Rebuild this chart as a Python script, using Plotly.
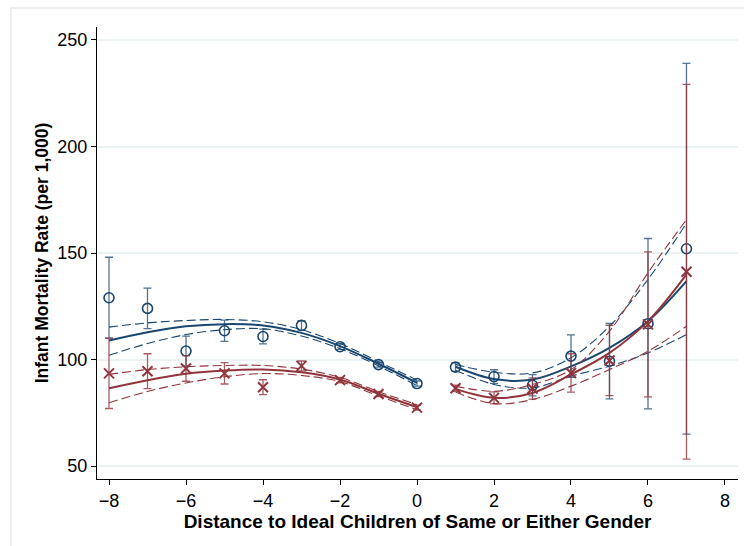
import plotly.graph_objects as go

# ---------------- data ----------------
x_left = [-8, -7, -6, -5, -4, -3, -2, -1, 0]
x_right = [1, 2, 3, 4, 5, 6, 7]

# Group 1 (blue circles): means and CI half-widths
blue_left = [129.0, 124.0, 104.0, 113.5, 110.8, 116.0, 106.0, 97.6, 88.7]
blue_left_err = [19.0, 9.5, 7.0, 5.0, 3.5, 2.2, 1.4, 1.2, 1.2]
blue_right = [96.4, 92.0, 87.9, 101.6, 99.2, 116.8, 152.0]
blue_right_err = [2.0, 3.2, 5.0, 10.0, 17.7, 40.0, 87.0]

# Group 2 (red crosses): means and CI half-widths
red_left = [93.5, 94.5, 95.8, 93.5, 87.0, 97.0, 90.3, 83.8, 77.4]
red_left_err = [16.5, 8.2, 6.0, 5.0, 3.5, 2.3, 1.3, 1.2, 1.2]
red_right = [86.5, 82.0, 86.4, 93.7, 99.5, 116.5, 141.2]
red_right_err = [1.5, 2.8, 5.0, 9.0, 16.5, 34.0, 88.0]

# Fitted curves and their confidence bands (read at integer x)
blue_fit_left = [108.9, 112.8, 115.6, 116.6, 116.0, 112.5, 106.3, 98.0, 89.0]
blue_fit_left_hi = [115.2, 117.2, 118.3, 118.8, 117.7, 114.0, 107.5, 99.0, 90.3]
blue_fit_left_lo = [102.0, 107.5, 111.7, 114.0, 114.4, 111.0, 105.1, 97.0, 87.7]
blue_fit_right = [96.6, 90.8, 90.6, 96.8, 105.5, 118.0, 136.8]
blue_fit_right_hi = [97.7, 94.0, 93.7, 100.8, 115.6, 137.6, 164.0]
blue_fit_right_lo = [95.0, 88.3, 86.7, 92.2, 96.9, 103.1, 111.7]

red_fit_left = [86.5, 90.3, 93.3, 94.8, 95.3, 94.0, 90.6, 83.9, 77.6]
red_fit_left_hi = [93.0, 95.3, 96.6, 97.2, 97.2, 95.5, 91.6, 84.9, 78.8]
red_fit_left_lo = [79.7, 85.0, 89.0, 91.9, 93.4, 92.5, 89.6, 82.9, 76.4]
red_fit_right = [86.2, 82.0, 84.3, 93.0, 103.1, 118.0, 140.0]
red_fit_right_hi = [87.5, 85.1, 88.3, 95.3, 113.3, 140.7, 165.7]
red_fit_right_lo = [84.7, 79.3, 81.2, 87.5, 95.3, 103.9, 115.6]

x_ticks = [-8, -6, -4, -2, 0, 2, 4, 6, 8]
y_ticks = [50, 100, 150, 200, 250]

x_title = "Distance to Ideal Children of Same or Either Gender"
y_title = "Infant Mortality Rate (per 1,000)"

# ---------------- styling ----------------
BLUE = "#1a476f"
RED = "#90353b"
BLUE_EB = "rgba(26,71,111,0.75)"
RED_EB = "rgba(144,53,59,0.8)"
GRID = "#eaf2f3"
FONT = "Liberation Sans, Arial, Helvetica, sans-serif"

fig = go.Figure()


def add_fit(xs, mid, hi, lo, color):
    for ys in (hi, lo):
        fig.add_trace(go.Scatter(
            x=xs, y=ys, mode="lines",
            line=dict(color=color, width=1.1, dash="9px,4px", shape="spline", smoothing=1.0),
            hoverinfo="skip", showlegend=False))
    fig.add_trace(go.Scatter(
        x=xs, y=mid, mode="lines",
        line=dict(color=color, width=2, shape="spline", smoothing=1.0),
        showlegend=False))


add_fit(x_left, blue_fit_left, blue_fit_left_hi, blue_fit_left_lo, BLUE)
add_fit(x_right, blue_fit_right, blue_fit_right_hi, blue_fit_right_lo, BLUE)
add_fit(x_left, red_fit_left, red_fit_left_hi, red_fit_left_lo, RED)
add_fit(x_right, red_fit_right, red_fit_right_hi, red_fit_right_lo, RED)

fig.add_trace(go.Scatter(
    x=x_left + x_right, y=blue_left + blue_right, mode="markers",
    marker=dict(symbol="circle-open", size=10, color=BLUE, line=dict(width=1.6, color=BLUE)),
    error_y=dict(type="data", array=blue_left_err + blue_right_err, visible=True,
                 color=BLUE_EB, thickness=1.3, width=4),
    showlegend=False))

fig.add_trace(go.Scatter(
    x=x_left + x_right, y=red_left + red_right, mode="markers",
    marker=dict(symbol="x-thin-open", size=10, color=RED, line=dict(width=2, color=RED)),
    error_y=dict(type="data", array=red_left_err + red_right_err, visible=True,
                 color=RED_EB, thickness=1.3, width=4),
    showlegend=False))

# outer graph-region frame
fig.add_shape(type="rect", xref="paper", yref="paper",
              x0=-0.1342, x1=1.2, y0=-0.3, y1=1.042,
              line=dict(color="#e4eced", width=1.5), fillcolor="rgba(0,0,0,0)", layer="below")

fig.update_layout(
    width=744, height=546,
    margin=dict(l=97, r=6, t=27, b=67, autoexpand=False),
    paper_bgcolor="white", plot_bgcolor="white",
    font=dict(family=FONT, size=18, color="black"),
    showlegend=False,
)

fig.update_xaxes(
    range=[-8.312, 8.338], tickvals=x_ticks, automargin=False,
    showgrid=False, zeroline=False,
    showline=True, linecolor="black", linewidth=1,
    ticks="outside", ticklen=5, tickcolor="black", tickwidth=1,
    tickfont=dict(size=18),
    title=dict(text=x_title, font=dict(size=19, weight="bold"), standoff=2),
)
fig.update_yaxes(
    range=[43.9, 256.1], tickvals=y_ticks, automargin=False,
    showgrid=True, gridcolor=GRID, gridwidth=1.5, zeroline=False,
    showline=True, linecolor="black", linewidth=1,
    ticks="outside", ticklen=5, tickcolor="black", tickwidth=1,
    tickfont=dict(size=18),
    title=dict(text=y_title, font=dict(size=17.5, weight="bold"), standoff=4),
)

fig.write_html(
    "out.html",
    config={"displayModeBar": False},
    post_script="document.body.style.margin='0';document.body.style.overflow='hidden';",
)
